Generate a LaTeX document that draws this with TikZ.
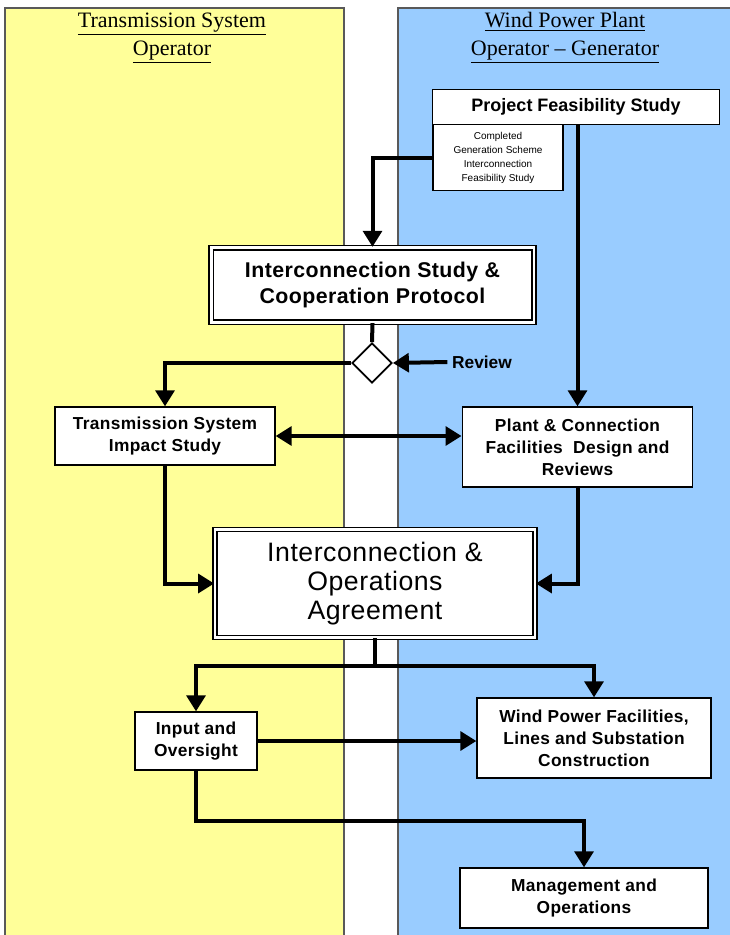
\documentclass[tikz,border=0pt]{standalone}
\usepackage{fontspec}
\setmainfont{Liberation Serif}
\setsansfont{Liberation Sans}
\usetikzlibrary{arrows.meta,shapes.geometric}
\definecolor{tsoyellow}{RGB}{255,255,153}
\definecolor{wppblue}{RGB}{153,204,255}
\begin{document}
\begin{tikzpicture}[x=0.75pt,y=-0.75pt,
	lane/.style={draw=black!65,line width=0.8pt},
	head/.style={align=center,font=\fontsize{16.5}{21}\selectfont},
	box/.style={draw,fill=white,line width=0.9pt,align=center,inner sep=2pt,font=\sffamily\bfseries\fontsize{13}{16.5}\selectfont\addfontfeatures{LetterSpace=2}},
	bigbox/.style={box,double,double distance=2pt,line width=1.2pt},
	arr/.style={line width=3pt,-{Triangle[length=12pt,width=14pt]}}]
	\useasboundingbox (0,0) rectangle (730,935);
	\fill[tsoyellow] (5,8) rectangle (344,935);
	\draw[lane] (5,935) |- (344,8) -- (344,935);
	\fill[wppblue] (398,8) rectangle (730,935);
	\draw[lane] (398,935) |- (730,8);
	\node[head] (tsoh) at (172,38) {\underline{Transmission System}\\\underline{Operator}};
	\node[head] (wpph) at (565,38) {\underline{Wind Power Plant}\\\underline{Operator \textendash{} Generator}};
	\node[box,minimum width=215pt,minimum height=26pt,font=\sffamily\bfseries\fontsize{13.5}{16}\selectfont] (pfs) at (576,107) {Project Feasibility Study};
	\node[box,minimum width=97.5pt,minimum height=49pt,font=\sffamily\fontsize{7.5}{10.5}\selectfont] (cgs) at (498,157.5) {Completed\\Generation Scheme\\Interconnection\\Feasibility Study};
	\node[bigbox,minimum width=242pt,minimum height=56pt,font=\sffamily\bfseries\fontsize{16}{19.5}\selectfont\addfontfeatures{LetterSpace=2}] (iscp) at (372.5,285) {Interconnection Study \&\\Cooperation Protocol};
	\node[draw,fill=white,line width=1.3pt,diamond,minimum size=30pt,inner sep=0pt] (dia) at (372,363) {};
	\node[font=\sffamily\bfseries\fontsize{13}{16}\selectfont] (rev) at (482,362) {Review};
	\node[box,minimum width=165pt,minimum height=43.5pt] (tsis) at (165,436) {Transmission System\\Impact Study};
	\node[box,minimum width=173pt,minimum height=60pt] (pcf) at (577.5,447) {Plant \& Connection\\Facilities\ \ Design and\\Reviews};
	\node[bigbox,minimum width=240pt,minimum height=81pt,font=\sffamily\fontsize{20}{22}\selectfont\addfontfeatures{LetterSpace=2}] (ioa) at (375,583.5) {Interconnection \&\\Operations\\Agreement};
	\node[box,minimum width=91.5pt,minimum height=43.5pt] (io) at (196,741) {Input and\\Oversight};
	\node[box,minimum width=175.5pt,minimum height=60pt] (wpf) at (594,738) {Wind Power Facilities,\\Lines and Substation\\Construction};
	\node[box,minimum width=186pt,minimum height=45pt] (mo) at (584,898) {Management and\\Operations};
	\coordinate (split) at ([yshift=-21pt]ioa.south);
	\draw[arr] (cgs.west) -| (iscp.north);
	\draw[arr] (pfs.south -| pcf.north) -- (pcf.north);
	\draw[line width=3pt] (iscp.south) -- (dia.north);
	\draw[arr] (rev.west) -- (dia.east);
	\draw[arr] (dia.west) -| (tsis.north);
	\draw[line width=3pt,{Triangle[length=12pt,width=14pt]}-{Triangle[length=12pt,width=14pt]}] (tsis.east) -- (tsis.east -| pcf.west);
	\draw[arr] (tsis.south) |- (ioa.west);
	\draw[arr] (pcf.south) |- (ioa.east);
	\draw[arr] (ioa.south) -- (split) -| (io.north);
	\draw[arr] (split) -| (wpf.north);
	\draw[arr] (io.east) -- (io.east -| wpf.west);
	\draw[arr] (io.south) -- ++(0,50) -| (mo.north);
\end{tikzpicture}
\end{document}
